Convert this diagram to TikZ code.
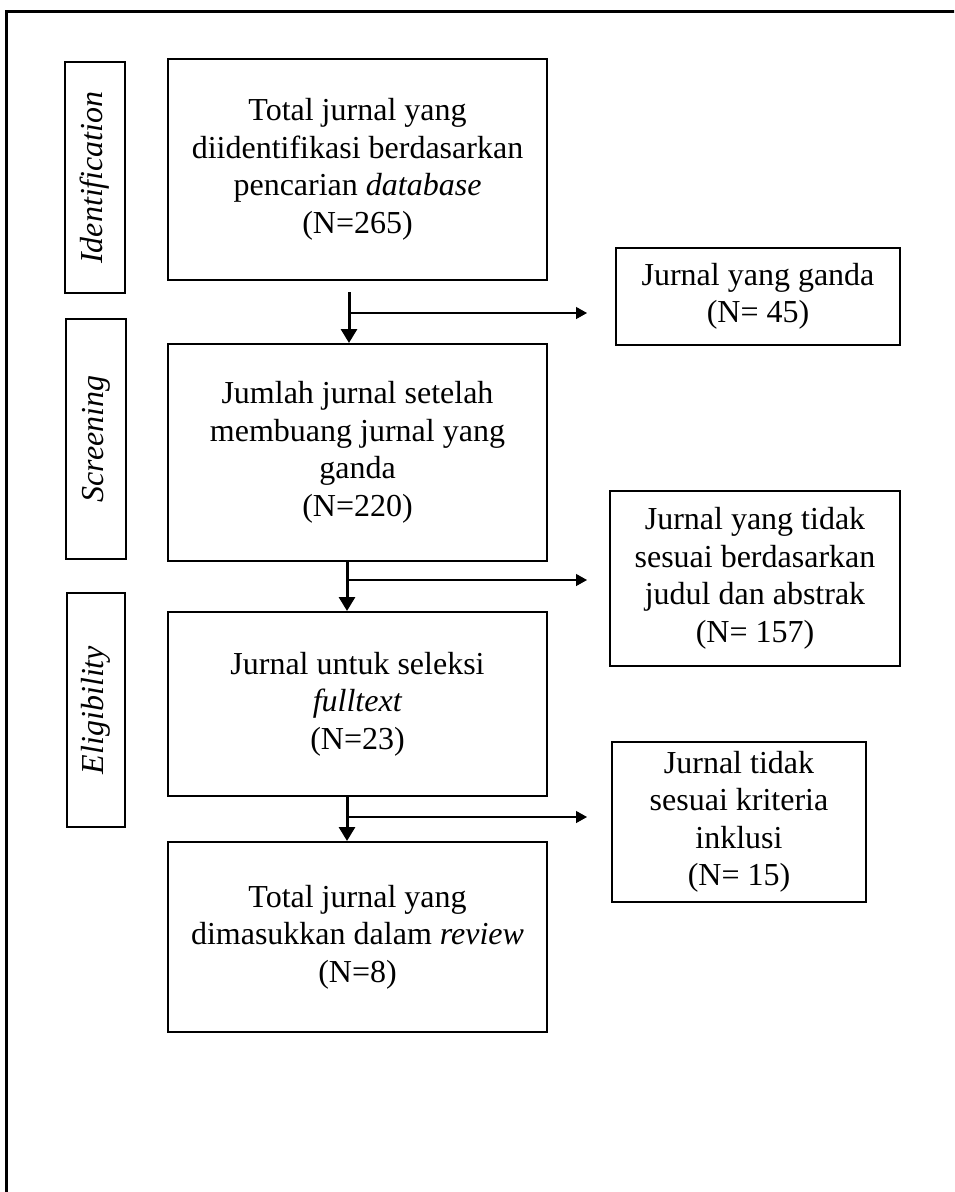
\documentclass[tikz,border=0pt]{standalone}
\usepackage{fontspec}
\setmainfont{Liberation Serif}
\usetikzlibrary{arrows.meta}
\begin{document}
\begin{tikzpicture}[x=1pt,y=-1pt,
  box/.style={draw,line width=2pt,rectangle,inner sep=0pt,align=center,font=\fontsize{32}{37.5}\selectfont},
  sidebox/.style={draw,line width=2pt,rectangle,inner sep=0pt,rotate=90,font=\fontsize{32}{37.5}\selectfont\itshape},
  down/.style={line width=3pt,-{Triangle[width=16pt,length=14pt]}},
  side/.style={line width=1.3pt,-{Triangle[width=12pt,length=11pt]}}]
\useasboundingbox (0,0) rectangle (954,1192);
\clip (0,0) rectangle (954,1192);
\draw[line width=3pt] (6,1250) -- (6,11) -- (1000,11);
% side labels
\node[sidebox,minimum width=231pt,minimum height=60pt] (s1) at (95,177.5) {Identification};
\node[sidebox,minimum width=240pt,minimum height=60pt] (s2) at (96,439) {Screening};
\node[sidebox,minimum width=234pt,minimum height=58pt] (s3) at (96,710) {Eligibility};
% main boxes
\node[box,minimum width=379pt,minimum height=221pt] (b1) at (357.5,169.5) {Total jurnal yang\\diidentifikasi berdasarkan\\pencarian \textit{database}\\(N=265)};
\node[box,minimum width=379pt,minimum height=217pt] (b2) at (357.5,452.5) {Jumlah jurnal setelah\\membuang jurnal yang\\ganda\\(N=220)};
\node[box,minimum width=379pt,minimum height=184pt] (b3) at (357.5,704) {Jurnal untuk seleksi\\\textit{fulltext}\\(N=23)};
\node[box,minimum width=379pt,minimum height=190pt] (b4) at (357.5,937) {Total jurnal yang\\dimasukkan dalam \textit{review}\\(N=8)};
% right boxes
\node[box,minimum width=284pt,minimum height=97pt] (r1) at (758,296.5) {Jurnal yang ganda\\(N= 45)};
\node[box,minimum width=290pt,minimum height=175pt] (r2) at (755,578.5) {Jurnal yang tidak\\sesuai berdasarkan\\judul dan abstrak\\(N= 157)};
\node[box,minimum width=254pt,minimum height=160pt] (r3) at (739,822) {Jurnal tidak\\sesuai kriteria\\inklusi\\(N= 15)};
% connectors
\coordinate (a1) at (349,292);
\coordinate (j1) at (349,313);
\coordinate (e1) at (587,313);
\draw[down] (a1) -- (a1 |- b2.north);
\draw[side] (j1) -- (e1);
\coordinate (a2) at (347,561);
\coordinate (j2) at (347,580);
\coordinate (e2) at (587,580);
\draw[down] (a2) -- (a2 |- b3.north);
\draw[side] (j2) -- (e2);
\coordinate (a3) at (347,796);
\coordinate (j3) at (347,817);
\coordinate (e3) at (587,817);
\draw[down] (a3) -- (a3 |- b4.north);
\draw[side] (j3) -- (e3);
\end{tikzpicture}
\end{document}
